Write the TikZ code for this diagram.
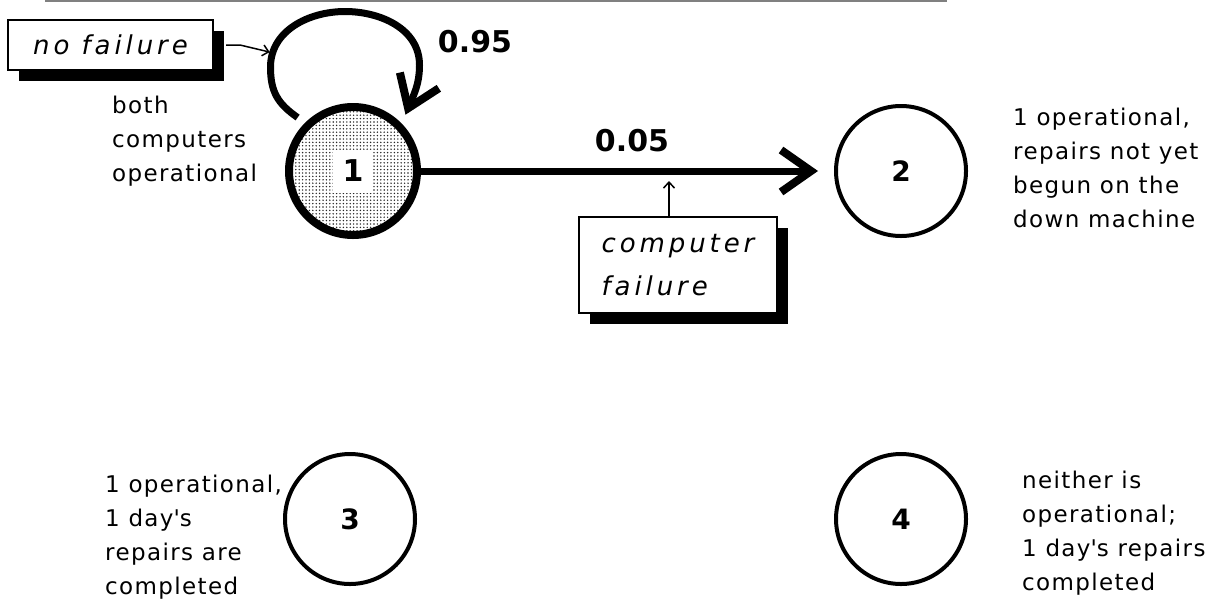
\documentclass[tikz,border=0pt]{standalone}
\usepackage{fontspec}
\setmainfont{DejaVu Sans}
\newfontfamily\descfont[LetterSpace=6]{DejaVu Sans}
\newfontfamily\italfont[LetterSpace=15]{DejaVu Sans}
\usetikzlibrary{arrows.meta,patterns.meta,shadows,calc}
\begin{document}
\begin{tikzpicture}[x=1pt,y=1pt,
  state/.style={circle, draw, line width=4pt, minimum size=130pt, inner sep=0pt, outer sep=0pt,
    font=\bfseries\fontsize{28}{30}\selectfont},
  startstate/.style={state, line width=8pt, minimum size=128pt,
    pattern={Dots[distance=3.4pt, radius=0.8pt]}, pattern color=black!85,
    font=\bfseries\fontsize{30}{32}\selectfont,
    path picture={\fill[white] ($(path picture bounding box.center)+(-20,-22)$) rectangle ($(path picture bounding box.center)+(20,21)$);}},
  desc/.style={align=left, inner sep=0pt, anchor=base west, font=\descfont\fontsize{23}{34}\selectfont},
  note/.style={draw, line width=2pt, fill=white, inner sep=0pt, align=left,
    font=\italfont\itshape\fontsize{26}{43}\selectfont,
    drop shadow={shadow xshift=11pt, shadow yshift=-11pt, opacity=1, fill=black}},
  prob/.style={font=\bfseries\fontsize{30}{32}\selectfont, inner sep=0pt},
  bigarrow/.style={line width=7pt, -{Straight Barb[length=30pt, width=42pt, line width=8pt]}},
  notearrow/.style={line width=1.5pt, -{Straight Barb[length=6pt, width=11pt]}},
  rule/.style={black!50, line width=2pt}]
\useasboundingbox (0,0) rectangle (1220,-598);
\fill[white] (0,0) rectangle (1220,-598);
\draw[rule] (45,-1) -- (947,-1);

\node[startstate] (n1) at (353,-171) {1};
\node[state] (n2) at (901,-171) {2};
\node[state] (n3) at (350,-519) {3};
\node[state] (n4) at (901,-519) {4};

\draw[bigarrow, shorten >=18pt] (n1) -- (n2);
\draw[bigarrow] ($(n1)+(136:77)$) to[out=145, in=-90, looseness=1.1]
  ($(n1)+(-82.5,104)$) to[out=90, in=180] coordinate[pos=0.14] (nfTip) ($(n1)+(-8,159.5)$)
  to[out=0, in=90] ($(n1)+(66.5,106)$) to[out=-90, in=68] ($(n1)+(47:77)$);

\node[prob] (p95) at (475,-42) {0.95};
\node[prob] (p05) at (632,-141) {0.05};

\node[note, minimum width=205pt, minimum height=50pt] (nf) at (110.5,-45) {no failure};
\node[note, minimum width=198pt, minimum height=96pt] (cf) at (678,-265) {computer\\failure};
\coordinate (cfTip) at (669,-181);
\draw[notearrow, shorten >=3pt] ([xshift=12pt]nf.east) -- ++(14,0) -- (nfTip);
\draw[notearrow] (cfTip |- cf.north) -- (cfTip);

\node[desc] (d1) at (112,-181) {both\\computers\\operational};
\node[desc] (d2) at (1013,-227) {1 operational,\\repairs not yet\\begun on the\\down machine};
\node[desc] (d3) at (105,-594) {1 operational,\\1 day\textquotesingle s\\repairs are\\completed};
\node[desc] (d4) at (1022,-590) {neither is\\operational;\\1 day\textquotesingle s repairs\\completed};
\end{tikzpicture}
\end{document}
